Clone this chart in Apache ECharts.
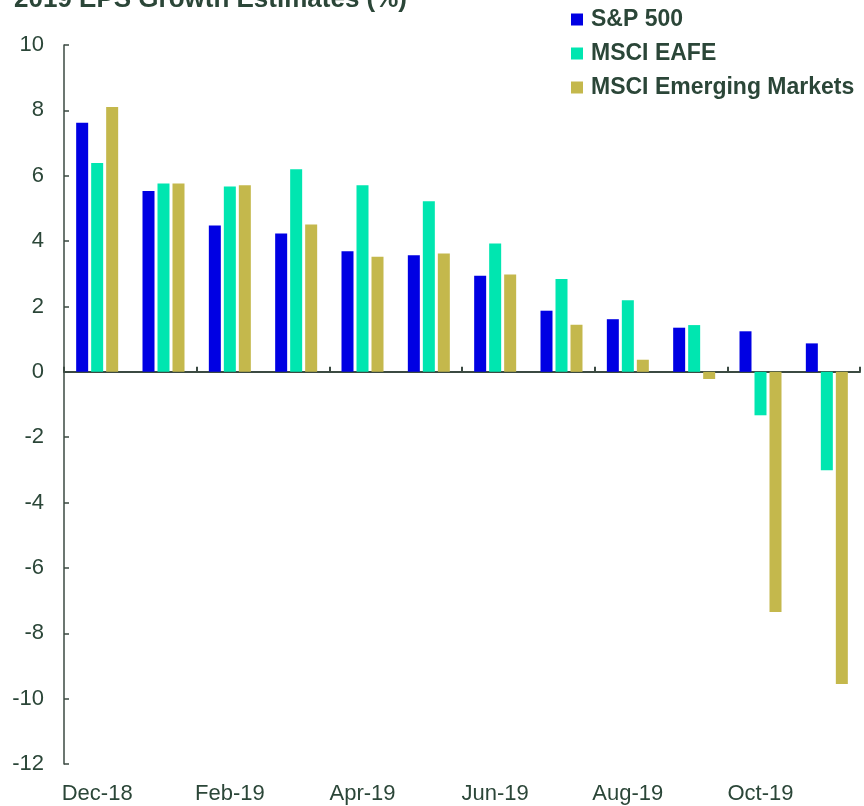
<!DOCTYPE html>
<html>
<head>
<meta charset="utf-8">
<script src="https://cdn.jsdelivr.net/npm/echarts@6/dist/echarts.min.js"></script>
<style>
  html, body { margin: 0; padding: 0; background: #fff; }
  #panel { width: 864px; height: 806px; }
</style>
</head>
<body>
<div id="panel"></div>
<script>
// 月份
var months = ['Dec-18', 'Jan-19', 'Feb-19', 'Mar-19', 'Apr-19', 'May-19',
              'Jun-19', 'Jul-19', 'Aug-19', 'Sep-19', 'Oct-19', 'Nov-19'];
// 2019 EPS 增长预期 (%)
var sp500 = [7.62, 5.53, 4.48, 4.23, 3.69, 3.57, 2.94, 1.87, 1.61, 1.35, 1.24, 0.87];
var eafe  = [6.39, 5.76, 5.67, 6.20, 5.71, 5.22, 3.93, 2.84, 2.19, 1.43, -1.33, -3.01];
var em    = [8.10, 5.76, 5.71, 4.51, 3.52, 3.62, 2.98, 1.44, 0.37, -0.22, -7.35, -9.55];

var txt = '#2b4638';
var axisCol = '#3b4a42';

chartDom = document.getElementById('panel');
myChart = echarts.init(chartDom);

function bar(name, data, color) {
    return {
        name: name,
        type: 'bar',
        data: data,
        xAxisIndex: 0,
        barWidth: 12,
        barGap: '25%',
        itemStyle: { color: color },
        emphasis: { disabled: true }
    };
}

myChart.setOption({
    animation: false,
    title: {
        text: '2019 EPS Growth Estimates (%)',
        left: 9,
        top: -18,
        textStyle: { color: txt, fontSize: 26, fontWeight: 'bold', fontFamily: 'Liberation Sans' }
    },
    legend: {
        orient: 'vertical',
        left: 566,
        top: 3,
        itemWidth: 12,
        itemHeight: 12,
        itemGap: 11,
        icon: 'rect',
        textStyle: { color: txt, fontSize: 23, fontWeight: 'bold', fontFamily: 'Liberation Sans', padding: [0, 0, 0, 3] },
        data: ['S&P 500', 'MSCI EAFE', 'MSCI Emerging Markets']
    },
    grid: { left: 64, right: 4, top: 45, bottom: 42, containLabel: false },
    xAxis: [{
        type: 'category',
        data: months,
        position: 'bottom',
        axisLine: { show: false, onZero: false },
        axisTick: { show: false },
        axisLabel: { interval: 1, color: txt, fontSize: 22, fontFamily: 'Liberation Sans', margin: 19 }
    }, {
        type: 'category',
        data: months,
        position: 'bottom',
        axisLine: { show: true, onZero: true, lineStyle: { color: axisCol, width: 2 } },
        axisTick: { show: true, inside: true, interval: 1, length: 5, lineStyle: { color: axisCol, width: 2 } },
        axisLabel: { show: false }
    }],
    yAxis: {
        type: 'value',
        min: -12,
        max: 10,
        interval: 2,
        splitLine: { show: false },
        axisLine: { show: true, lineStyle: { color: axisCol, width: 1.5 } },
        axisTick: { show: true, inside: true, length: 5, lineStyle: { color: axisCol, width: 1.5 } },
        axisLabel: { color: txt, fontSize: 22, fontFamily: 'Liberation Sans', margin: 20 }
    },
    series: [
        bar('S&P 500', sp500, '#0000e3'),
        bar('MSCI EAFE', eafe, '#00e6b0'),
        bar('MSCI Emerging Markets', em, '#c4b84c')
    ]
});
</script>
</body>
</html>
